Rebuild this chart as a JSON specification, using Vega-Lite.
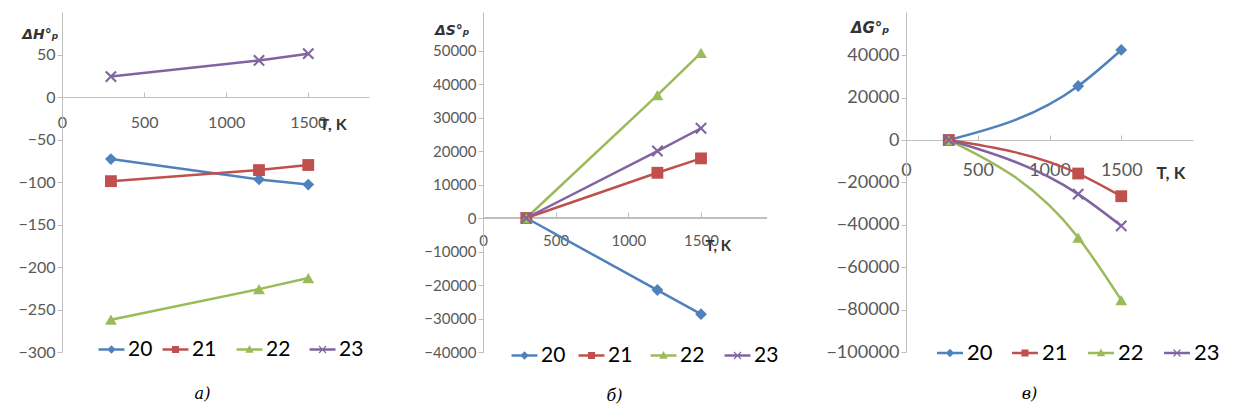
{
  "$schema": "https://vega.github.io/schema/vega-lite/v6.json",
  "background": "white",
  "padding": {"left": 17, "top": 12, "right": 0, "bottom": 0},
  "config": {"view": {"stroke": null}, "font": "Lato", "legend": {"orient": "none", "title": null, "symbolSize": 42, "symbolStrokeWidth": 0, "labelFont": "Lato", "labelColor": "#000000", "labelOffset": 6}},
  "datasets": {
    "dh": [
      {"T": 298, "s": "20", "v": -73}, {"T": 1200, "s": "20", "v": -97}, {"T": 1500, "s": "20", "v": -103},
      {"T": 298, "s": "21", "v": -99}, {"T": 1200, "s": "21", "v": -86}, {"T": 1500, "s": "21", "v": -80},
      {"T": 298, "s": "22", "v": -262}, {"T": 1200, "s": "22", "v": -226}, {"T": 1500, "s": "22", "v": -213},
      {"T": 298, "s": "23", "v": 24}, {"T": 1200, "s": "23", "v": 43}, {"T": 1500, "s": "23", "v": 51}
    ],
    "ds": [
      {"T": 298, "s": "20", "v": 0}, {"T": 1200, "s": "20", "v": -21500}, {"T": 1500, "s": "20", "v": -28700},
      {"T": 298, "s": "21", "v": 0}, {"T": 1200, "s": "21", "v": 13500}, {"T": 1500, "s": "21", "v": 17800},
      {"T": 298, "s": "22", "v": 0}, {"T": 1200, "s": "22", "v": 36700}, {"T": 1500, "s": "22", "v": 49300},
      {"T": 298, "s": "23", "v": 0}, {"T": 1200, "s": "23", "v": 20000}, {"T": 1500, "s": "23", "v": 26800}
    ],
    "dg": [
      {"T": 298, "s": "20", "v": 0}, {"T": 1200, "s": "20", "v": 25500}, {"T": 1500, "s": "20", "v": 42500},
      {"T": 298, "s": "21", "v": 0}, {"T": 1200, "s": "21", "v": -15800}, {"T": 1500, "s": "21", "v": -26500},
      {"T": 298, "s": "22", "v": 0}, {"T": 1200, "s": "22", "v": -46000}, {"T": 1500, "s": "22", "v": -75500},
      {"T": 298, "s": "23", "v": 0}, {"T": 1200, "s": "23", "v": -25500}, {"T": 1500, "s": "23", "v": -40500}
    ]
  },
  "resolve": {"scale": {"x": "independent", "y": "independent", "color": "independent", "shape": "independent"}, "legend": {"color": "independent", "shape": "independent"}},
  "spacing": 114,
  "bounds": "flush",
  "hconcat": [
    {
      "width": 307, "height": 340,
      "data": {"name": "dh"},
      "title": {"text": "а)", "orient": "bottom", "frame": "group", "offset": 26, "dx": -13, "font": "DejaVu Serif", "fontStyle": "italic", "fontWeight": "normal", "fontSize": 16, "color": "#000"},
      "encoding": {
        "x": {"field": "T", "type": "quantitative", "scale": {"domain": [0, 1870], "nice": false, "zero": false},
          "axis": {"values": [0, 500, 1000, 1500], "format": "d", "offset": -255, "grid": false, "domainColor": "#BFBFBF", "tickColor": "#BFBFBF", "tickSize": -5, "labelPadding": 22, "labelFont": "Lato", "labelFontSize": 16, "labelColor": "#595959", "labelFlush": false,
            "title": "T, K", "titleX": 257, "titleY": 32, "titleAlign": "left", "titleBaseline": "alphabetic", "titleFont": "Lato", "titleFontWeight": "bold", "titleFontSize": 16, "titleColor": "#333333"}},
        "y": {"field": "v", "type": "quantitative", "scale": {"domain": [-300, 100], "nice": false, "zero": false},
          "axis": {"values": [-300, -250, -200, -150, -100, -50, 0, 50], "format": "d", "grid": false, "domainColor": "#BFBFBF", "tickColor": "#BFBFBF", "tickSize": 5, "labelPadding": 2, "labelFont": "Lato", "labelFontSize": 16, "labelColor": "#595959",
            "title": "ΔH°ₚ", "titleAngle": 0, "titleAlign": "right", "titleBaseline": "alphabetic", "titleX": -4, "titleY": 26, "titleFont": "DejaVu Sans", "titleFontStyle": "italic", "titleFontWeight": "bold", "titleFontSize": 14, "titleColor": "#333333"}}
      },
      "resolve": {"scale": {"shape": "independent"}, "legend": {"shape": "independent"}},
      "layer": [
        {"mark": {"type": "line", "strokeWidth": 2.5},
          "encoding": {"color": {"field": "s", "type": "nominal", "scale": {"domain": ["20", "21", "22", "23"], "range": ["#4F81BD", "#C0504D", "#9BBB59", "#8064A2"]}, "legend": null}}},
        {"mark": {"type": "point", "filled": true, "size": 140, "opacity": 1},
          "encoding": {
            "color": {"field": "s", "type": "nominal", "scale": {"domain": ["20", "21", "22", "23"], "range": ["#4F81BD", "#C0504D", "#9BBB59", "#8064A2"]}, "legend": null},
            "shape": {"field": "s", "type": "nominal", "legend": null, "scale": {"domain": ["20", "21", "22", "23"], "range": ["diamond", "square", "triangle-up", "M-1,-0.75L-0.75,-1L0,-0.25L0.75,-1L1,-0.75L0.25,0L1,0.75L0.75,1L0,0.25L-0.75,1L-1,0.75L-0.25,0Z"]}}}},
        {"transform": [{"filter": "false"}], "mark": {"type": "point", "filled": true, "opacity": 1, "color": "#4F81BD"},
          "encoding": {"shape": {"field": "s", "type": "nominal", "scale": {"domain": ["20"], "range": ["M-4,-0.35H4V0.35H-4ZM0,-1.3L1.3,0L0,1.3L-1.3,0Z"]}, "legend": {"legendX": 39, "legendY": 327, "labelFontSize": 21}}}},
        {"transform": [{"filter": "false"}], "mark": {"type": "point", "filled": true, "opacity": 1, "color": "#C0504D"},
          "encoding": {"shape": {"field": "s", "type": "nominal", "scale": {"domain": ["21"], "range": ["M-4,-0.35H4V0.35H-4ZM-1.1,-1.1H1.1V1.1H-1.1Z"]}, "legend": {"legendX": 103, "legendY": 327, "labelFontSize": 21}}}},
        {"transform": [{"filter": "false"}], "mark": {"type": "point", "filled": true, "opacity": 1, "color": "#9BBB59"},
          "encoding": {"shape": {"field": "s", "type": "nominal", "scale": {"domain": ["22"], "range": ["M-4,-0.35H4V0.35H-4ZM0,-1.4L1.3,1H-1.3Z"]}, "legend": {"legendX": 177, "legendY": 327, "labelFontSize": 21}}}},
        {"transform": [{"filter": "false"}], "mark": {"type": "point", "filled": true, "opacity": 1, "color": "#8064A2"},
          "encoding": {"shape": {"field": "s", "type": "nominal", "scale": {"domain": ["23"], "range": ["M-4,-0.35H4V0.35H-4ZM-1.2,-0.95L-0.95,-1.2L0,-0.25L0.95,-1.2L1.2,-0.95L0.25,0L1.2,0.95L0.95,1.2L0,0.25L-0.95,1.2L-1.2,0.95L-0.25,0Z"]}, "legend": {"legendX": 250, "legendY": 327, "labelFontSize": 21}}}}
      ]
    },
    {
      "width": 309, "height": 340,
      "data": {"name": "ds"},
      "title": {"text": "б)", "orient": "bottom", "frame": "group", "offset": 22, "dx": -23, "font": "DejaVu Serif", "fontStyle": "italic", "fontWeight": "normal", "fontSize": 16, "color": "#000"},
      "encoding": {
        "x": {"field": "T", "type": "quantitative", "scale": {"domain": [0, 2126], "nice": false, "zero": false},
          "axis": {"values": [0, 500, 1000, 1500], "format": "d", "offset": -135, "grid": false, "domain": false, "tickColor": "#BFBFBF", "tickSize": -5, "labelPadding": 21, "labelFont": "Lato", "labelFontSize": 15, "labelColor": "#595959", "labelFlush": false,
            "title": "T, K", "titleX": 222, "titleY": 33, "titleAlign": "left", "titleBaseline": "alphabetic", "titleFont": "Lato", "titleFontWeight": "bold", "titleFontSize": 15, "titleColor": "#333333"}},
        "y": {"field": "v", "type": "quantitative", "scale": {"domain": [-40000, 61500], "nice": false, "zero": false},
          "axis": {"values": [-40000, -30000, -20000, -10000, 0, 10000, 20000, 30000, 40000, 50000], "format": "d", "grid": false, "domainColor": "#BFBFBF", "tickColor": "#BFBFBF", "tickSize": 5, "labelPadding": 2, "labelFont": "Lato", "labelFontSize": 15, "labelColor": "#595959",
            "title": "ΔS°ₚ", "titleAngle": 0, "titleAlign": "right", "titleBaseline": "alphabetic", "titleX": -14, "titleY": 22, "titleFont": "DejaVu Sans", "titleFontStyle": "italic", "titleFontWeight": "bold", "titleFontSize": 14, "titleColor": "#333333"}}
      },
      "resolve": {"scale": {"shape": "independent"}, "legend": {"shape": "independent"}},
      "layer": [
        {"mark": {"type": "rule", "color": "#BFBFBF", "strokeWidth": 1},
          "encoding": {"x": {"datum": 0}, "x2": {"datum": 1950}, "y": {"datum": 0}}},
        {"mark": {"type": "line", "strokeWidth": 2.5},
          "encoding": {"color": {"field": "s", "type": "nominal", "scale": {"domain": ["20", "21", "22", "23"], "range": ["#4F81BD", "#C0504D", "#9BBB59", "#8064A2"]}, "legend": null}}},
        {"mark": {"type": "point", "filled": true, "size": 140, "opacity": 1},
          "encoding": {
            "color": {"field": "s", "type": "nominal", "scale": {"domain": ["20", "21", "22", "23"], "range": ["#4F81BD", "#C0504D", "#9BBB59", "#8064A2"]}, "legend": null},
            "shape": {"field": "s", "type": "nominal", "legend": null, "scale": {"domain": ["20", "21", "22", "23"], "range": ["diamond", "square", "triangle-up", "M-1,-0.75L-0.75,-1L0,-0.25L0.75,-1L1,-0.75L0.25,0L1,0.75L0.75,1L0,0.25L-0.75,1L-1,0.75L-0.25,0Z"]}}}},
        {"transform": [{"filter": "false"}], "mark": {"type": "point", "filled": true, "opacity": 1, "color": "#4F81BD"},
          "encoding": {"shape": {"field": "s", "type": "nominal", "scale": {"domain": ["20"], "range": ["M-4,-0.35H4V0.35H-4ZM0,-1.3L1.3,0L0,1.3L-1.3,0Z"]}, "legend": {"legendX": 31, "legendY": 333, "labelFontSize": 21}}}},
        {"transform": [{"filter": "false"}], "mark": {"type": "point", "filled": true, "opacity": 1, "color": "#C0504D"},
          "encoding": {"shape": {"field": "s", "type": "nominal", "scale": {"domain": ["21"], "range": ["M-4,-0.35H4V0.35H-4ZM-1.1,-1.1H1.1V1.1H-1.1Z"]}, "legend": {"legendX": 98, "legendY": 333, "labelFontSize": 21}}}},
        {"transform": [{"filter": "false"}], "mark": {"type": "point", "filled": true, "opacity": 1, "color": "#9BBB59"},
          "encoding": {"shape": {"field": "s", "type": "nominal", "scale": {"domain": ["22"], "range": ["M-4,-0.35H4V0.35H-4ZM0,-1.4L1.3,1H-1.3Z"]}, "legend": {"legendX": 170, "legendY": 333, "labelFontSize": 21}}}},
        {"transform": [{"filter": "false"}], "mark": {"type": "point", "filled": true, "opacity": 1, "color": "#8064A2"},
          "encoding": {"shape": {"field": "s", "type": "nominal", "scale": {"domain": ["23"], "range": ["M-4,-0.35H4V0.35H-4ZM-1.2,-0.95L-0.95,-1.2L0,-0.25L0.95,-1.2L1.2,-0.95L0.25,0L1.2,0.95L0.95,1.2L0,0.25L-0.95,1.2L-1.2,0.95L-0.25,0Z"]}, "legend": {"legendX": 244, "legendY": 333, "labelFontSize": 21}}}}
      ]
    },
    {
      "width": 287, "height": 340,
      "data": {"name": "dg"},
      "title": {"text": "в)", "orient": "bottom", "frame": "group", "offset": 22, "dx": -20, "font": "DejaVu Serif", "fontStyle": "italic", "fontWeight": "normal", "fontSize": 16, "color": "#000"},
      "encoding": {
        "x": {"field": "T", "type": "quantitative", "scale": {"domain": [0, 2000], "nice": false, "zero": false},
          "axis": {"values": [0, 500, 1000, 1500], "format": "d", "offset": -212, "grid": false, "domainColor": "#BFBFBF", "tickColor": "#BFBFBF", "tickSize": -5, "labelPadding": 26, "labelFont": "Lato", "labelFontSize": 18, "labelColor": "#595959", "labelFlush": false,
            "title": "T, K", "titleX": 250, "titleY": 38, "titleAlign": "left", "titleBaseline": "alphabetic", "titleFont": "Lato", "titleFontWeight": "bold", "titleFontSize": 17, "titleColor": "#333333"}},
        "y": {"field": "v", "type": "quantitative", "scale": {"domain": [-100000, 60400], "nice": false, "zero": false},
          "axis": {"values": [-100000, -80000, -60000, -40000, -20000, 0, 20000, 40000], "format": "d", "grid": false, "domainColor": "#BFBFBF", "tickColor": "#BFBFBF", "tickSize": 5, "labelPadding": 2, "labelFont": "Lato", "labelFontSize": 18, "labelColor": "#595959",
            "title": "ΔG°ₚ", "titleAngle": 0, "titleAlign": "right", "titleBaseline": "alphabetic", "titleX": -17, "titleY": 20, "titleFont": "DejaVu Sans", "titleFontStyle": "italic", "titleFontWeight": "bold", "titleFontSize": 15, "titleColor": "#333333"}}
      },
      "resolve": {"scale": {"shape": "independent"}, "legend": {"shape": "independent"}},
      "layer": [
        {"mark": {"type": "line", "strokeWidth": 2.5, "interpolate": "monotone"},
          "encoding": {"color": {"field": "s", "type": "nominal", "scale": {"domain": ["20", "21", "22", "23"], "range": ["#4F81BD", "#C0504D", "#9BBB59", "#8064A2"]}, "legend": null}}},
        {"mark": {"type": "point", "filled": true, "size": 140, "opacity": 1},
          "encoding": {
            "color": {"field": "s", "type": "nominal", "scale": {"domain": ["20", "21", "22", "23"], "range": ["#4F81BD", "#C0504D", "#9BBB59", "#8064A2"]}, "legend": null},
            "shape": {"field": "s", "type": "nominal", "legend": null, "scale": {"domain": ["20", "21", "22", "23"], "range": ["diamond", "square", "triangle-up", "M-1,-0.75L-0.75,-1L0,-0.25L0.75,-1L1,-0.75L0.25,0L1,0.75L0.75,1L0,0.25L-0.75,1L-1,0.75L-0.25,0Z"]}}}},
        {"transform": [{"filter": "false"}], "mark": {"type": "point", "filled": true, "opacity": 1, "color": "#4F81BD"},
          "encoding": {"shape": {"field": "s", "type": "nominal", "scale": {"domain": ["20"], "range": ["M-4,-0.35H4V0.35H-4ZM0,-1.3L1.3,0L0,1.3L-1.3,0Z"]}, "legend": {"legendX": 33, "legendY": 330, "labelFontSize": 22}}}},
        {"transform": [{"filter": "false"}], "mark": {"type": "point", "filled": true, "opacity": 1, "color": "#C0504D"},
          "encoding": {"shape": {"field": "s", "type": "nominal", "scale": {"domain": ["21"], "range": ["M-4,-0.35H4V0.35H-4ZM-1.1,-1.1H1.1V1.1H-1.1Z"]}, "legend": {"legendX": 108, "legendY": 330, "labelFontSize": 22}}}},
        {"transform": [{"filter": "false"}], "mark": {"type": "point", "filled": true, "opacity": 1, "color": "#9BBB59"},
          "encoding": {"shape": {"field": "s", "type": "nominal", "scale": {"domain": ["22"], "range": ["M-4,-0.35H4V0.35H-4ZM0,-1.4L1.3,1H-1.3Z"]}, "legend": {"legendX": 184, "legendY": 330, "labelFontSize": 22}}}},
        {"transform": [{"filter": "false"}], "mark": {"type": "point", "filled": true, "opacity": 1, "color": "#8064A2"},
          "encoding": {"shape": {"field": "s", "type": "nominal", "scale": {"domain": ["23"], "range": ["M-4,-0.35H4V0.35H-4ZM-1.2,-0.95L-0.95,-1.2L0,-0.25L0.95,-1.2L1.2,-0.95L0.25,0L1.2,0.95L0.95,1.2L0,0.25L-0.95,1.2L-1.2,0.95L-0.25,0Z"]}, "legend": {"legendX": 260, "legendY": 330, "labelFontSize": 22}}}}
      ]
    }
  ]
}
